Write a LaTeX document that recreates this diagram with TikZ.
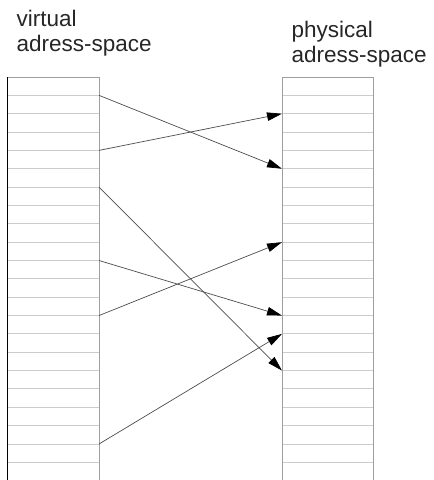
\documentclass[tikz,border=0pt]{standalone}
\usepackage{fontspec}
\setmainfont{Liberation Sans}
\usetikzlibrary{arrows.meta}
\begin{document}
\begin{tikzpicture}[x=1pt,y=-1pt,
  cellline/.style={draw=gray!40,line width=1pt},
  boxedge/.style={draw=gray!75,line width=1pt},
  mapline/.style={draw=black!70,line width=0.7pt,-{Triangle[length=15pt,width=8.5pt,color=black,fill=black]}},
  label/.style={font=\fontsize{22.5}{25.7}\selectfont,align=left,inner sep=0pt,anchor=base west,text=black!85}]
\useasboundingbox (0,0) rectangle (434,480);
% cells
\foreach \k in {1,...,21}{
  \draw[cellline] (7,{77+18.35*\k}) -- (99,{77+18.35*\k});
  \draw[cellline] (282,{77+18.35*\k}) -- (373,{77+18.35*\k});
}
\foreach \k in {0,...,22}{
  \coordinate (L\k) at (99,{77+18.35*\k});
  \coordinate (R\k) at (282,{77+18.35*\k});
}
% left box
\draw[boxedge] (7,77) -- (99,77) -- (99,481);
\draw[black,line width=1pt] (7,77) -- (7,481);
% right box
\draw[boxedge] (282,481) -- (282,77) -- (373,77) -- (373,481);
% labels
\node[label] (vlab) at (16.5,51.7) {virtual\\adress-space};
\node[label] (plab) at (291.5,62.7) {physical\\adress-space};
% mappings
\draw[mapline] (L1) -- (R5);
\draw[mapline] (L4) -- (R2);
\draw[mapline] (L6) -- (R16);
\draw[mapline] (L10) -- (R13);
\draw[mapline] (L13) -- (R9);
\draw[mapline] (L20) -- (R14);
\end{tikzpicture}
\end{document}
